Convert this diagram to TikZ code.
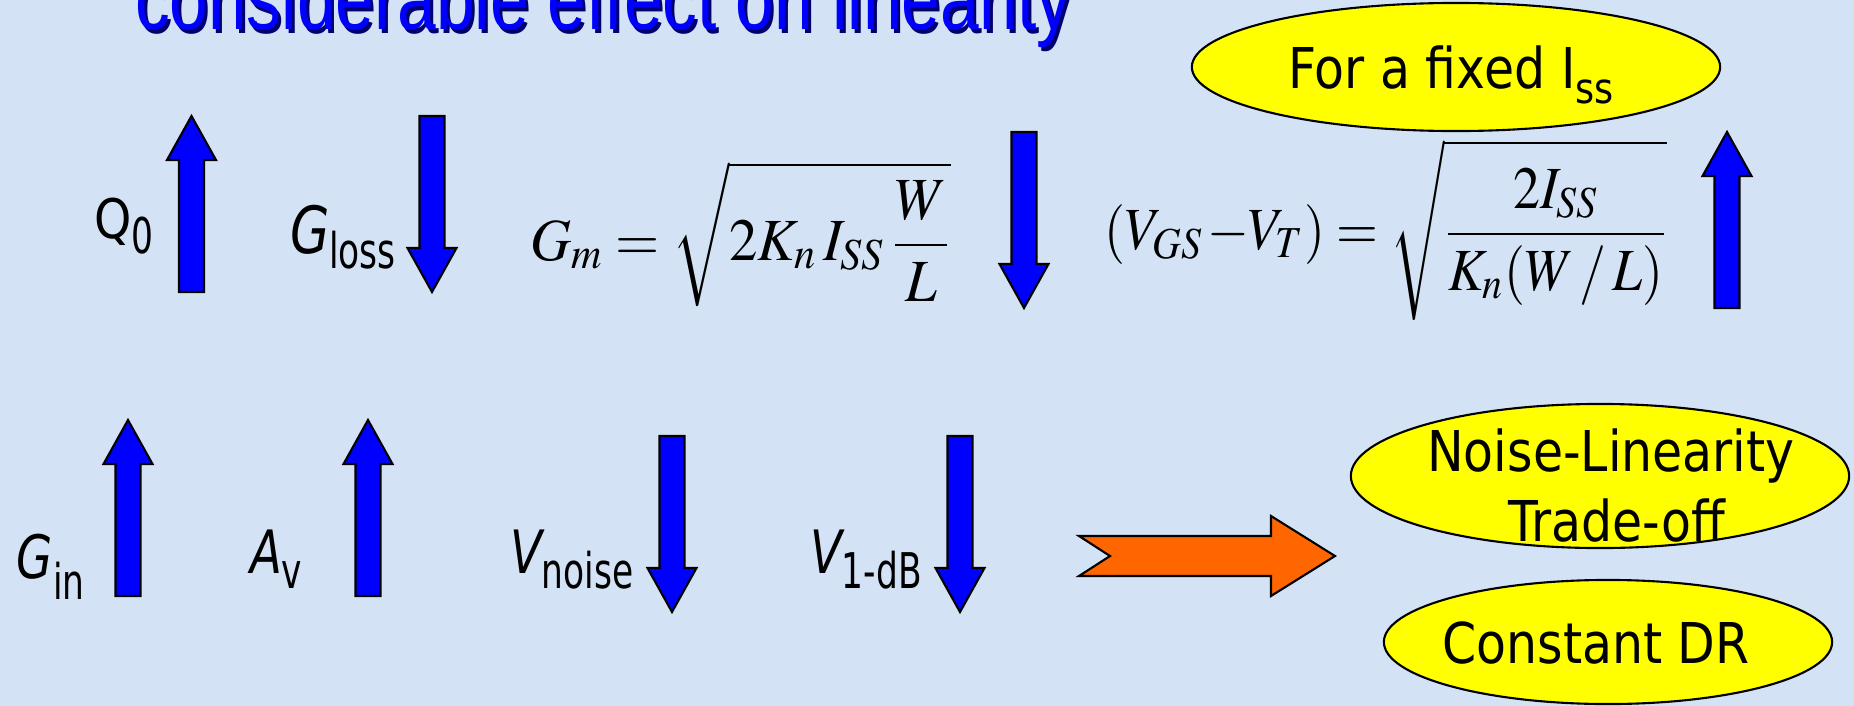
\documentclass[tikz,border=0pt]{standalone}
\usepackage{mathptmx}
\usepackage[no-math]{fontspec}
\usepackage{tikz}
\usetikzlibrary{shapes.geometric}
\newfontfamily\ovalfont[FakeStretch=0.87]{DejaVu Sans}
\newfontfamily\labelfont[FakeStretch=0.78]{DejaVu Sans}
\newfontfamily\subfont[FakeStretch=0.7]{DejaVu Sans}
\newfontfamily\titlefont[FakeStretch=0.79]{Liberation Sans}
\definecolor{slidebg}{RGB}{211,227,245}
\definecolor{arrblue}{RGB}{0,0,255}
\definecolor{shadowblue}{RGB}{0,0,110}
\definecolor{ovalyellow}{RGB}{255,255,0}
\definecolor{bigorange}{RGB}{255,102,0}

\tikzset{
    blkarr/.style={draw=black, line width=0.6pt, fill=arrblue},
    upblk/.pic={\draw[blkarr] (0,0) -- (24.5,44) -- (12.5,44) -- (12.5,176)
                -- (-12.5,176) -- (-12.5,44) -- (-24.5,44) -- cycle;},
    downblk/.pic={\draw[blkarr] (0,176) -- (24.5,132) -- (12.5,132) -- (12.5,0)
                -- (-12.5,0) -- (-12.5,132) -- (-24.5,132) -- cycle;}
}
\newcommand{\lowsub}[2][4.3pt]{\raisebox{-#1}{\subfont\fontsize{14}{16}\selectfont #2}}

\begin{document}
\begin{tikzpicture}[
    x=0.01cm, y=-0.01cm,
    every node/.style={inner sep=0pt, outer sep=0pt},
    oval/.style={ellipse, draw=black, line width=0.6pt, fill=ovalyellow},
    ovaltxt/.style={font=\ovalfont\fontsize{16}{19}\selectfont, anchor=base},
    lbl/.style={font=\labelfont\fontsize{17}{20}\selectfont, anchor=base west},
    formula/.style={font=\fontsize{17}{20}\selectfont, anchor=base west},
    headline/.style={font=\titlefont\fontsize{25}{28}\selectfont, anchor=base west},
    bigarr/.style={draw=black, line width=0.6pt, fill=bigorange}
]
    \useasboundingbox (0,0) rectangle (1854,706);
    \clip (0,0) rectangle (1854,706);
    \fill[slidebg] (0,0) rectangle (1854,706);

    \node[headline, text=shadowblue] (ttlshadow) at (138,33) {considerable effect on linearity};
    \node[headline, text=arrblue]    (ttl)       at (135,30) {considerable effect on linearity};

    \node[oval, minimum width=5.28cm, minimum height=1.28cm] (fixoval) at (1456,67) {};
    \node[ovaltxt] (fixtxt) at (1451,88)
        {For a fixed I\raisebox{-4.3pt}{\fontsize{12}{14}\selectfont ss}};

    \node[lbl] (qzero) at (94,238) {{\ovalfont\fontsize{15.5}{18}\selectfont Q}\lowsub{0}};
    \pic at (191.5,116) {upblk};
    \node[lbl] (gloss) at (290,253)
        {{\itshape\fontsize{18.5}{20}\selectfont G}\lowsub{loss}};
    \pic at (432,116) {downblk};

    \node[formula] (gmeq) at (530,260)
        {\scalebox{0.95}[1]{$\displaystyle G_m=\sqrt{2K_n\,I_{SS}\,\frac{W}{L}}$}};
    \pic at (1024,132) {downblk};
    \node[formula] (vodeq) at (1104,249)
        {\scalebox{0.9}[1]{$\displaystyle (V_{GS}\mskip-1mu-\mskip-3mu V_T)=\sqrt{\frac{2I_{SS}}{K_n(W\,/\,L)}}$}};
    \pic at (1727,132) {upblk};

    \node[lbl] (gin) at (17,578) {{\itshape G}\lowsub[6pt]{in}};
    \pic at (128,420) {upblk};
    \node[lbl] (av) at (250,573) {{\itshape A}\lowsub{v}};
    \pic at (368,420) {upblk};
    \node[lbl] (vnoise) at (510,573) {{\itshape V}\lowsub{noise}};
    \pic at (672,436) {downblk};
    \node[lbl] (vonedb) at (810,573) {{\itshape V}\lowsub{1-dB}};
    \pic at (960,436) {downblk};

    \draw[bigarr] (1079,536) -- (1271,536) -- (1271,516) -- (1335,556)
        -- (1271,596) -- (1271,576) -- (1079,576) -- (1110,556) -- cycle;

    \node[oval, minimum width=4.98cm, minimum height=1.44cm] (tradeoval) at (1600,476) {};
    \node[ovaltxt] (tradetxta) at (1611,471) {Noise-Linearity};
    \node[ovaltxt] (tradetxtb) at (1617,541) {Trade-off};
    \node[oval, minimum width=4.48cm, minimum height=1.24cm] (droval) at (1608,642) {};
    \node[ovaltxt] (drtxt) at (1596,663) {Constant DR};
\end{tikzpicture}
\end{document}
